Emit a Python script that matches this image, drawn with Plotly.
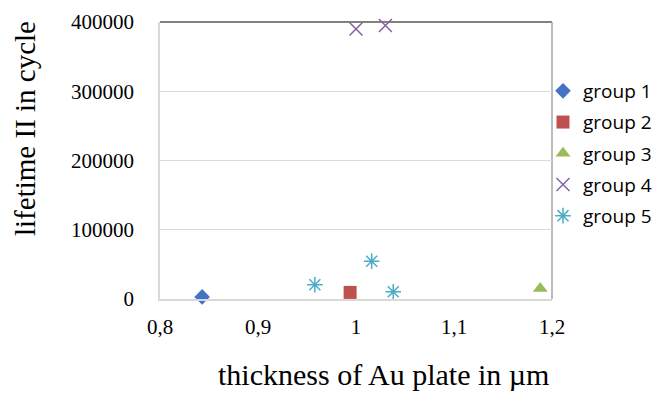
import plotly.graph_objects as go

groups = ["group 1", "group 2", "group 3", "group 4", "group 5"]
x_vals = [[0.843], [0.994], [1.188], [1.0, 1.03], [0.958, 1.016, 1.038]]
y_vals = [[3000], [9500], [15000], [390000, 395000], [20500, 54500, 10500]]
colors = ["#4472C4", "#C0504D", "#9BBB59", "#8064A2", "#4BACC6"]
symbols = ["diamond", "square", "triangle-up", "x-thin-open", "asterisk-open"]
sizes = [12, 13, 13, 13, 13]

x_ticks = [0.8, 0.9, 1.0, 1.1, 1.2]
x_ticktext = ["0,8", "0,9", "1", "1,1", "1,2"]
y_ticks = [0, 100000, 200000, 300000, 400000]
y_ticktext = ["0", "100000", "200000", "300000", "400000"]

fig = go.Figure()
for i, g in enumerate(groups):
    line_w = 1.5 if symbols[i] in ("x-thin-open", "asterisk-open") else 0
    fig.add_trace(go.Scatter(
        x=x_vals[i], y=y_vals[i], mode="markers", name=g,
        legendgroup=g,
        cliponaxis=False,
        marker=dict(symbol=symbols[i], size=sizes[i], color=colors[i],
                    line=dict(width=line_w, color=colors[i])),
    ))

# top and right borders of plot area
fig.add_shape(type="line", xref="paper", yref="paper", x0=0, x1=1, y0=1, y1=1,
              line=dict(color="#595959", width=1.5), layer="below")
fig.add_shape(type="line", xref="paper", yref="paper", x0=1, x1=1, y0=0, y1=1,
              line=dict(color="#A6A6A6", width=1.5), layer="below")

serif = "Liberation Serif, Times New Roman, serif"

fig.update_layout(
    width=657, height=394,
    margin=dict(l=160, r=105, t=22, b=95, autoexpand=False),
    paper_bgcolor="white", plot_bgcolor="white",
    showlegend=True,
    legend=dict(xref="container", yref="container",
                x=543 / 657, xanchor="left", y=1 - 72 / 394, yanchor="top",
                font=dict(family="Open Sans, Liberation Sans, sans-serif", size=19, color="#000000"),
                traceorder="grouped", tracegroupgap=3.5,
                itemwidth=30, bgcolor="rgba(0,0,0,0)"),
    xaxis=dict(range=[0.8, 1.2], tickvals=x_ticks, ticktext=x_ticktext,
               showgrid=False, zeroline=False, showline=True, linecolor="#D9D9D9",
               linewidth=1.5, ticks="", ticklen=0, ticklabelstandoff=8,
               tickfont=dict(family=serif, size=21, color="#000000")),
    yaxis=dict(range=[0, 400000], tickvals=y_ticks, ticktext=y_ticktext,
               showgrid=True, gridcolor="#D9D9D9", gridwidth=1,
               zeroline=False, showline=True, linecolor="#D9D9D9", linewidth=1.5,
               ticks="", ticklen=0, ticklabelstandoff=20,
               tickfont=dict(family=serif, size=21, color="#000000")),
    annotations=[
        dict(text="thickness of Au plate in µm", xref="paper", yref="paper",
             x=(383 - 160) / 392, y=(299 - 374) / 277, xanchor="center", yanchor="middle",
             showarrow=False,
             font=dict(family=serif, size=30, color="#000000")),
        dict(text="lifetime II in cycle", xref="paper", yref="paper",
             x=(25 - 160) / 392, y=(299 - 129) / 277, xanchor="center", yanchor="middle",
             textangle=-90, showarrow=False,
             font=dict(family=serif, size=29, color="#000000")),
    ],
)

fig.write_html("out.html")
